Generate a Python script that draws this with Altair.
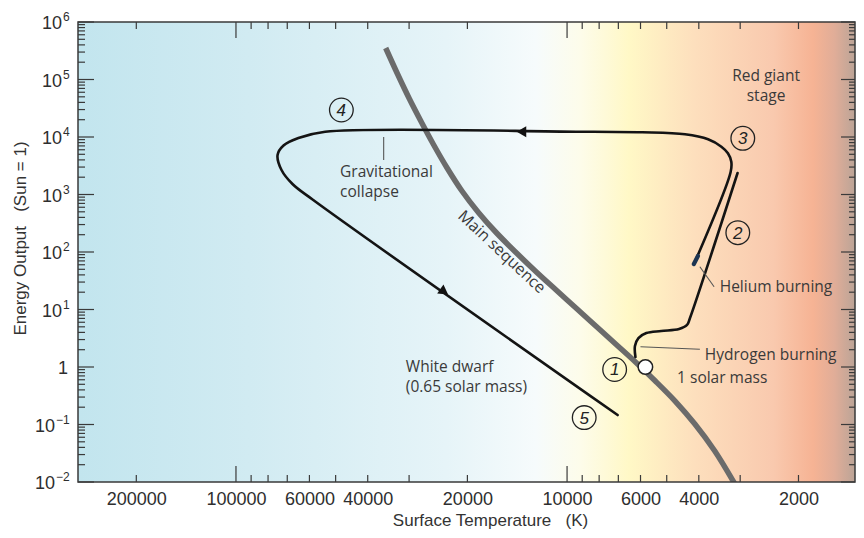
import altair as alt
import pandas as pd

# ------------------------------------------------------------------ data
# main sequence: surface temperature (K) and energy output (Sun = 1)
ms_T = [35300, 32510, 29920, 27550, 25370, 23030, 20770, 18470, 16320, 14210,
        12380, 10790, 9399, 8188, 7134, 6216, 5413, 4718, 4111, 3580, 3076]
ms_L = [353000, 124600, 45800, 18230, 7556, 2890, 1150, 477, 214, 96.1,
        44.9, 21.8, 10.6, 5.16, 2.51, 1.222, 0.571, 0.256, 0.102, 0.0346, 0.0082]

# track 1: leaving the main sequence up the red giant branch
rgb_T = [6216, 6237, 6087, 5761, 5195, 4588, 4341, 4253, 3055]
rgb_L = [1.49, 2.32, 3.19, 3.90, 4.23, 4.58, 5.38, 7.12, 2365]

# track 2: helium burning -> giant -> gravitational collapse -> white dwarf
trk_T = [4111, 3206, 3191, 3267, 3419, 3750, 4402, 5934, 9399, 53760,
         64770, 71840, 74880, 72850, 67500, 58430, 7036]
trk_L = [67.0, 2462, 3719, 5206, 6782, 9120, 11140, 12070, 12370, 12370,
         9607, 7115, 4864, 2668, 1523, 802, 0.146]

# helium burning tip
he_T = [4140, 4025]
he_L = [61.8, 85.2]

# arrowheads on the track
arrow_left_T, arrow_left_L = [13730], [12370]
arrow_dn_T, arrow_dn_L = [23500], [20.3]

# the Sun (1 solar mass)
sun_T, sun_L = [5800], [1.0]

# circled stage numbers
num_text = ["1", "2", "3", "4", "5"]
num_T = [7183, 3050, 2946, 48050, 8876]
num_L = [0.905, 216.6, 9493, 29480, 0.132]

# annotations (left aligned)
lab_text = ["Gravitational\ncollapse", "Helium burning", "Hydrogen burning",
            "1 solar mass", "White dwarf\n(0.65 solar mass)"]
lab_T = [48480, 3459, 3836, 4652, 30690]
lab_L = [2462, 24.6, 1.617, 0.644, 1.012]

# centred annotation
rg_text = ["Red giant\nstage"]
rg_T = [2506]
rg_L = [115100]

ms_label_T, ms_label_L = [15760], [100]

# pointer lines
ptr_T1 = [35800, 3971, 6002]
ptr_L1 = [10000, 55.5, 2.254]
ptr_T2 = [35800, 3597, 3971]
ptr_L2 = [3981, 24.9, 2.031]

# axes
x_labels = [200000, 100000, 60000, 40000, 20000, 10000, 6000, 4000, 2000]
x_major = [100000, 10000]
x_minor = [200000, 90000, 80000, 70000, 60000, 50000, 40000, 30000, 20000,
           9000, 8000, 7000, 6000, 5000, 4000, 3000, 2000]
y_decades = [0.01, 0.1, 1, 10, 100, 1000, 10000, 100000, 1000000]
y_pos_decades = [10, 100, 1000, 10000, 100000, 1000000]
y_pos_exp = ["1", "2", "3", "4", "5", "6"]
y_neg_decades = [0.01, 0.1]
y_neg_exp = ["\u22122", "\u22121"]
y_unit = [1]
y_minor_factors = [2, 3, 4, 5, 6, 7, 8, 9]
y_minor = [f * d for d in y_decades[:-1] for f in y_minor_factors]

# ------------------------------------------------------------------ chart
W, H = 777, 460
AX_FONT = "Liberation Sans"
ANN_FONT = "Open Sans"
TICK_C = "#3a3a3a"
TXT_C = "#3a3a3a"
LAB_C = "#2e2e2e"
MAJ, MIN = 16, 7

xs = alt.Scale(type="log", domain=[1350, 300000], reverse=True, nice=False)
ys = alt.Scale(type="log", domain=[0.01, 1000000], nice=False)

x_axis = alt.Axis(values=x_labels, format="d", ticks=False, domain=False, grid=False,
                  labelFont=AX_FONT, labelFontSize=18, labelColor=LAB_C, labelPadding=8,
                  labelOverlap=False, labelFlush=False,
                  title="Surface Temperature\u00a0\u00a0\u00a0(K)", titleFont=AX_FONT,
                  titleFontSize=17, titleFontWeight="normal", titleColor="#333333",
                  titleX=412, titleY=43, titleAlign="center", titleBaseline="alphabetic")
y_axis = alt.Axis(values=y_decades, labels=False, ticks=False, domain=False, grid=False,
                  title="Energy Output\u00a0\u00a0\u00a0(Sun = 1)", titleFont=AX_FONT,
                  titleFontSize=17, titleFontWeight="normal", titleColor="#333333",
                  titleAngle=270, titleX=-58, titleY=216, titleAlign="center",
                  titleBaseline="middle")


def X(f):
    return alt.X(f"{f}:Q", scale=xs, axis=x_axis)


def Y(f):
    return alt.Y(f"{f}:Q", scale=ys, axis=y_axis)


stops = [(0.00, "#c2e5ee"), (0.22, "#d1ebf2"), (0.474, "#e6f4f8"), (0.589, "#f6fbfc"),
         (0.647, "#fdfcea"), (0.71, "#fff8c6"), (0.793, "#fddfbd"), (0.895, "#f9c9ae"),
         (0.946, "#f6b394"), (0.974, "#e0ad98"), (1.0, "#bba497")]
grad = alt.LinearGradient(gradient="linear",
                          stops=[alt.GradientStop(color=c, offset=o) for o, c in stops],
                          x1=0, x2=1, y1=0, y2=0)

one = pd.DataFrame({"a": [0]})
bg = alt.Chart(one).mark_rect(fill=grad).encode(
    x=alt.value(0), x2=alt.value(W), y=alt.value(0), y2=alt.value(H))


def vdf(vals, texts=None):
    d = {"v": vals}
    if texts is not None:
        d["t"] = texts
    return pd.DataFrame(d)


def xticks(vals, top, length):
    y0 = 0 if top else H
    y1 = length if top else H - length
    return alt.Chart(vdf(vals)).mark_rule(color=TICK_C, strokeWidth=1.2).encode(
        x=X("v"), y=alt.value(y0), y2=alt.value(y1))


def yticks(vals, right, length):
    x0 = W if right else 0
    x1 = W - length if right else length
    return alt.Chart(vdf(vals)).mark_rule(color=TICK_C, strokeWidth=1.2).encode(
        y=Y("v"), x=alt.value(x0), x2=alt.value(x1))


ticks = [xticks(x_major, False, MAJ), xticks(x_minor, False, MIN),
         xticks(x_major, True, MAJ), xticks(x_minor, True, MIN),
         yticks(y_decades, False, MAJ), yticks(y_minor, False, MIN),
         yticks(y_decades, True, MAJ - 2), yticks(y_minor, True, MIN - 1)]


# y tick labels: base "10" with a raised exponent
def ylab(vals, texts, xpix, size, align, dy):
    return alt.Chart(vdf(vals, texts)).mark_text(
        font=AX_FONT, fontSize=size, color=LAB_C, align=align, baseline="middle", dy=dy).encode(
        x=alt.value(xpix), y=Y("v"), text="t:N")


ylabels = [
    ylab(y_pos_decades, ["10"] * len(y_pos_decades), -16, 18, "right", 2),
    ylab(y_pos_decades, y_pos_exp, -15, 12, "left", -5),
    ylab(y_neg_decades, ["10"] * len(y_neg_decades), -23, 18, "right", 2),
    ylab(y_neg_decades, y_neg_exp, -22, 12, "left", -5),
    ylab(y_unit, ["1"], -10, 18, "right", 2),
]

ms_df = pd.DataFrame({"T": ms_T, "L": ms_L, "i": list(range(len(ms_T)))})
main = alt.Chart(ms_df).mark_line(color="#6b6b6b", strokeWidth=5.5, clip=True,
                                  interpolate="catmull-rom").encode(
    x=X("T"), y=Y("L"), order="i:Q")


def track(T, L, **kw):
    df = pd.DataFrame({"T": T, "L": L, "i": list(range(len(T)))})
    return alt.Chart(df).mark_line(interpolate="catmull-rom", strokeCap="round", **kw).encode(
        x=X("T"), y=Y("L"), order="i:Q")


rgb = track(rgb_T, rgb_L, color="#141414", strokeWidth=2.6)
trk = track(trk_T, trk_L, color="#141414", strokeWidth=2.6)
he = track(he_T, he_L, color="#1d3552", strokeWidth=4.2)

ptr_df = pd.DataFrame({"T1": ptr_T1, "L1": ptr_L1, "T2": ptr_T2, "L2": ptr_L2})
ptr = alt.Chart(ptr_df).mark_rule(color="#555555", strokeWidth=1.1).encode(
    x=X("T1"), y=Y("L1"), x2="T2:Q", y2="L2:Q")

arr1 = alt.Chart(pd.DataFrame({"T": arrow_left_T, "L": arrow_left_L})).mark_point(
    shape="triangle-left", filled=True, size=120, color="#111111", opacity=1).encode(
    x=X("T"), y=Y("L"))
arr2 = alt.Chart(pd.DataFrame({"T": arrow_dn_T, "L": arrow_dn_L})).mark_point(
    shape="triangle-right", filled=True, size=120, color="#111111", opacity=1, angle=35).encode(
    x=X("T"), y=Y("L"))

lab = alt.Chart(pd.DataFrame({"T": lab_T, "L": lab_L, "t": lab_text})).mark_text(
    font=ANN_FONT, fontSize=15.5, color=TXT_C, align="left", baseline="middle",
    lineBreak="\n", lineHeight=20).encode(
    x=X("T"), y=Y("L"), text="t:N")
rg = alt.Chart(pd.DataFrame({"T": rg_T, "L": rg_L, "t": rg_text})).mark_text(
    font=ANN_FONT, fontSize=15.5, color=TXT_C, align="center", baseline="middle",
    lineBreak="\n", lineHeight=20).encode(
    x=X("T"), y=Y("L"), text="t:N")
msl = alt.Chart(pd.DataFrame({"T": ms_label_T, "L": ms_label_L, "t": ["Main sequence"]})).mark_text(
    font=ANN_FONT, fontSize=16, color=TXT_C, align="center", baseline="middle", angle=43).encode(
    x=X("T"), y=Y("L"), text="t:N")

num_df = pd.DataFrame({"T": num_T, "L": num_L, "t": num_text})
circ = alt.Chart(num_df).mark_point(shape="circle", size=560, filled=False, stroke="#222222",
                                    strokeWidth=1.3, opacity=1).encode(x=X("T"), y=Y("L"))
nums = alt.Chart(num_df).mark_text(font=AX_FONT, fontStyle="italic", fontSize=17,
                                   color="#222222", align="center", baseline="middle", dy=1).encode(
    x=X("T"), y=Y("L"), text="t:N")

sun = alt.Chart(pd.DataFrame({"T": sun_T, "L": sun_L})).mark_point(
    shape="circle", size=210, filled=True, fill="white", stroke="#222222", strokeWidth=1.5,
    opacity=1).encode(x=X("T"), y=Y("L"))

frame = alt.Chart(one).mark_rect(filled=False, stroke="#3a3a3a", strokeWidth=1.5).encode(
    x=alt.value(0), x2=alt.value(W), y=alt.value(0), y2=alt.value(H))

chart = alt.layer(bg, *ticks, *ylabels, main, rgb, trk, he, ptr, arr1, arr2, lab, rg, msl,
                  circ, nums, sun, frame).properties(
    width=W, height=H,
    autosize=alt.AutoSizeParams(type="none"),
    padding={"left": 70, "top": 14, "right": 1, "bottom": 47},
).configure_view(strokeWidth=0)

chart.save("out.html", embed_options={"renderer": "svg", "actions": False})
